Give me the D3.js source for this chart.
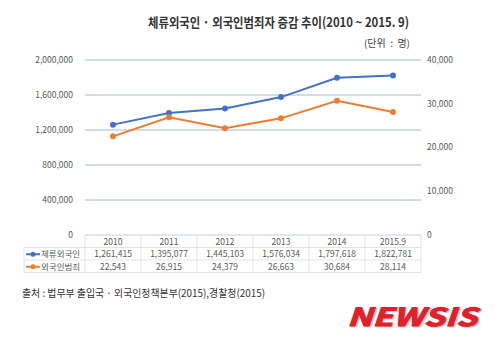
<!DOCTYPE html>
<html>
<head>
<meta charset="utf-8">
<script src="https://cdn.jsdelivr.net/npm/d3@7"></script>
<style>
  body { margin: 0; background: #fff; }
  text { font-family: "Noto Sans CJK KR", "Noto Sans", sans-serif; }
</style>
</head>
<body>
<svg id="chart" width="499" height="351"></svg>
<script>
const years = ["2010", "2011", "2012", "2013", "2014", "2015.9"];
const residents = [1261415, 1395077, 1445103, 1576034, 1797618, 1822781];
const offenders = [22543, 26915, 24379, 26663, 30684, 28114];
const leftTicks = [0, 400000, 800000, 1200000, 1600000, 2000000];
const rightTicks = [0, 10000, 20000, 30000, 40000];

const seriesNames = ["체류외국인", "외국인범죄"];
const seriesColors = ["#4472c4", "#ed7d31"];

const svg = d3.select("#chart");

const plotLeft = 85, plotRight = 421, plotTop = 60, plotBottom = 235;

const x = d3.scaleBand().domain(years).range([plotLeft, plotRight]);
const yL = d3.scaleLinear().domain([0, 2000000]).range([plotBottom, plotTop]);
const yR = d3.scaleLinear().domain([0, 40000]).range([plotBottom, plotTop]);

const fmt = d3.format(",");

// title
svg.append("text")
    .attr("x", 148).attr("y", 27)
    .attr("textLength", 261).attr("lengthAdjust", "spacingAndGlyphs")
    .attr("font-size", 13).attr("font-weight", "bold")
    .attr("fill", "#333")
    .text("체류외국인 · 외국인범죄자 증감 추이(2010 ~ 2015. 9)");

svg.append("text")
    .attr("x", 410).attr("y", 47)
    .attr("text-anchor", "end")
    .attr("font-size", 10).attr("fill", "#444")
    .attr("xml:space", "preserve")
    .text("(단위  :  명)");

// gridlines
svg.append("g").selectAll("line")
    .data(leftTicks.filter(d => d > 0))
    .enter().append("line")
    .attr("x1", plotLeft).attr("x2", plotRight)
    .attr("y1", d => yL(d)).attr("y2", d => yL(d))
    .attr("stroke", "#a8b8cc").attr("stroke-width", 1);

// left axis labels
svg.append("g").selectAll("text")
    .data(leftTicks)
    .enter().append("text")
    .attr("x", 73).attr("y", d => yL(d)).attr("dy", "0.35em")
    .attr("text-anchor", "end")
    .attr("font-size", 8.5).attr("fill", "#595959")
    .text(fmt);

// right axis labels
svg.append("g").selectAll("text")
    .data(rightTicks)
    .enter().append("text")
    .attr("x", 427).attr("y", d => yR(d)).attr("dy", "0.35em")
    .attr("text-anchor", "start")
    .attr("font-size", 8.5).attr("fill", "#595959")
    .text(fmt);

// lines
const cx = d => x(d) + x.bandwidth() / 2;
const sets = [
    { vals: residents, y: yL, color: seriesColors[0] },
    { vals: offenders, y: yR, color: seriesColors[1] }
];
sets.forEach(s => {
    const pts = years.map((yr, i) => [cx(yr), s.y(s.vals[i])]);
    svg.append("path")
        .attr("d", d3.line()(pts))
        .attr("fill", "none")
        .attr("stroke", s.color).attr("stroke-width", 2);
    svg.append("g").selectAll("circle")
        .data(pts).enter().append("circle")
        .attr("cx", d => d[0]).attr("cy", d => d[1])
        .attr("r", 3).attr("fill", s.color);
});

// data table
const rowH = 12.5;
const tableTop = plotBottom;
const tbl = svg.append("g");
const gridColor = "#e3e3e3";

// vertical cell borders
tbl.selectAll("line.v")
    .data(years.concat(["end"]))
    .enter().append("line")
    .attr("x1", d => d === "end" ? plotRight : x(d))
    .attr("x2", d => d === "end" ? plotRight : x(d))
    .attr("y1", tableTop).attr("y2", tableTop + rowH * 3)
    .attr("stroke", gridColor);
tbl.append("line")
    .attr("x1", 24).attr("x2", 24)
    .attr("y1", tableTop + rowH).attr("y2", tableTop + rowH * 3)
    .attr("stroke", gridColor);
// horizontal
[1, 2, 3].forEach(r => {
    tbl.append("line")
        .attr("x1", 24).attr("x2", plotRight)
        .attr("y1", tableTop + rowH * r).attr("y2", tableTop + rowH * r)
        .attr("stroke", gridColor);
});
tbl.append("line")
    .attr("x1", plotLeft).attr("x2", plotRight)
    .attr("y1", tableTop).attr("y2", tableTop)
    .attr("stroke", "#c8d0da");

// header years
tbl.selectAll("text.year")
    .data(years).enter().append("text")
    .attr("x", cx).attr("y", tableTop + rowH / 2 + 0.5).attr("dy", "0.35em")
    .attr("text-anchor", "middle")
    .attr("font-size", 8.5).attr("fill", "#595959")
    .text(d => d);

[residents, offenders].forEach((vals, r) => {
    const yy = tableTop + rowH * (r + 1.5) + 0.5;
    tbl.append("g").selectAll("text")
        .data(vals).enter().append("text")
        .attr("x", (d, i) => cx(years[i])).attr("y", yy).attr("dy", "0.35em")
        .attr("text-anchor", "middle")
        .attr("font-size", 8.5).attr("fill", "#595959")
        .text(fmt);
    // legend key
    tbl.append("line")
        .attr("x1", 26).attr("x2", 40).attr("y1", yy).attr("y2", yy)
        .attr("stroke", seriesColors[r]).attr("stroke-width", 2);
    tbl.append("circle")
        .attr("cx", 33).attr("cy", yy).attr("r", 2.5)
        .attr("fill", seriesColors[r]);
    tbl.append("text")
        .attr("x", 41).attr("y", yy).attr("dy", "0.35em")
        .attr("font-size", 8.5).attr("fill", "#595959")
        .text(seriesNames[r]);
});

// source
svg.append("text")
    .attr("x", 22).attr("y", 297)
    .attr("textLength", 243).attr("lengthAdjust", "spacingAndGlyphs")
    .attr("font-size", 10.5).attr("fill", "#333")
    .text("출처 : 법무부 출입국 · 외국인정책본부(2015),경찰청(2015)");

// logo
const logo = svg.append("g");
[["#999", 0.5, 1.5], ["#e0202a", 1, 0]].forEach(([c, op, off]) => {
    logo.append("text")
        .attr("x", 347 + off).attr("y", 325.5 + off)
        .attr("textLength", 130).attr("lengthAdjust", "spacingAndGlyphs")
        .attr("font-family", "Liberation Sans, Arial, sans-serif")
        .attr("font-size", 25).attr("font-weight", "bold").attr("font-style", "italic")
        .attr("fill", c).attr("stroke", c).attr("stroke-width", 1)
        .attr("opacity", op)
        .text("NEWSIS");
});
</script>
</body>
</html>
